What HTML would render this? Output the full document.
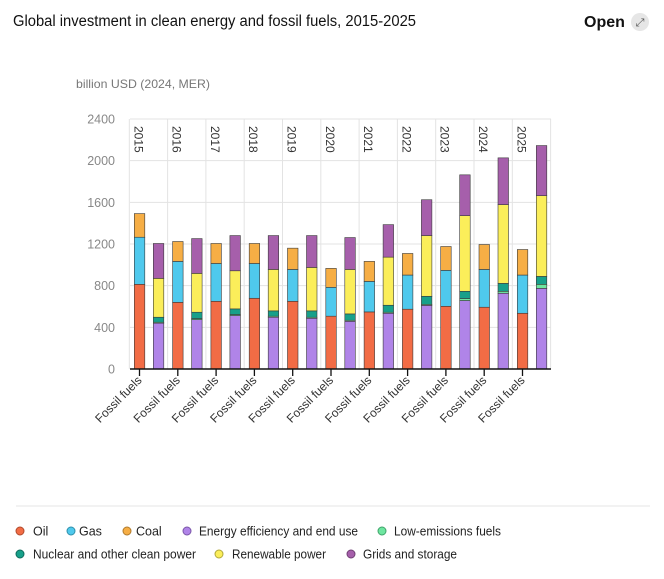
<!DOCTYPE html>
<html><head><meta charset="utf-8"><style>
body{margin:0;background:#fff;font-family:"Liberation Sans",sans-serif;}
</style></head><body>
<svg id="s" width="664" height="574" xmlns="http://www.w3.org/2000/svg" font-family="Liberation Sans, sans-serif">
<text x="13" y="26" font-size="15.5" fill="#111" textLength="403" lengthAdjust="spacingAndGlyphs">Global investment in clean energy and fossil fuels, 2015-2025</text>
<text x="584" y="27" font-size="16" font-weight="bold" fill="#111">Open</text>
<circle cx="640" cy="22" r="9" fill="#e6e6e6"/>
<text x="640" y="26" font-size="11" fill="#555" text-anchor="middle">⤢</text>
<text x="76" y="88" font-size="12" fill="#777" textLength="134" lengthAdjust="spacingAndGlyphs">billion USD (2024, MER)</text>
<line x1="16" y1="506" x2="650" y2="506" stroke="#e4e4e4"/>
<g id="g"></g>
<g font-size="12.5" fill="#222">
<circle cx="20" cy="531" r="4" fill="#f26c45" stroke="#b04a2c"/><text x="33" y="535.5">Oil</text>
<circle cx="71" cy="531" r="4" fill="#4fc9ed" stroke="#2f8faa"/><text x="79" y="535.5">Gas</text>
<circle cx="127" cy="531" r="4" fill="#f6ae45" stroke="#b07a2c"/><text x="136" y="535.5">Coal</text>
<circle cx="187" cy="531" r="4" fill="#b084e8" stroke="#7a56a8"/><text x="199" y="535.5" textLength="159" lengthAdjust="spacingAndGlyphs">Energy efficiency and end use</text>
<circle cx="382" cy="531" r="4" fill="#6ee6a0" stroke="#3fa36a"/><text x="394" y="535.5" textLength="107" lengthAdjust="spacingAndGlyphs">Low-emissions fuels</text>
<circle cx="20" cy="554" r="4" fill="#17a08a" stroke="#0d6b5c"/><text x="33" y="558.5" textLength="163" lengthAdjust="spacingAndGlyphs">Nuclear and other clean power</text>
<circle cx="219" cy="554" r="4" fill="#fbee5a" stroke="#b0a73a"/><text x="232" y="558.5" textLength="94" lengthAdjust="spacingAndGlyphs">Renewable power</text>
<circle cx="351" cy="554" r="4" fill="#a65fab" stroke="#703f74"/><text x="363" y="558.5" textLength="94" lengthAdjust="spacingAndGlyphs">Grids and storage</text>
</g>
</svg>
<script>
var g=document.getElementById('g'),h='';
function Y(v){return 369-v*250/2400;}
for(var v=0;v<=2400;v+=400){var y=Y(v);
 h+='<line x1="130" x2="551" y1="'+y+'" y2="'+y+'" stroke="#e3e3e3"/>';
 h+='<text x="115" y="'+(y+4.5)+'" font-size="12.5" fill="#888" text-anchor="end">'+v+'</text>';}
var years=[2015,2016,2017,2018,2019,2020,2021,2022,2023,2024,2025];
for(var i=0;i<12;i++){var x=129.3+38.3*i;
 h+='<line x1="'+x+'" x2="'+x+'" y1="119" y2="369" stroke="#e3e3e3"/>';}
var F=[[813,1265,1492],[640,1033,1224],[650,1013,1205],[679,1013,1205],[650,956,1160],[507,784,966],[548,841,1033],[574,902,1109],[602,947,1176],[593,956,1195],[535,902,1147]];
var C=[[440,449,497,870,1205],[474,484,545,918,1252],[513,523,577,943,1281],[497,507,558,956,1281],[487,497,558,975,1281],[458,468,529,956,1262],[535,545,612,1074,1386],[611,621,698,1281,1625],[657,676,746,1472,1864],[727,746,822,1578,2027],[774,813,889,1664,2145]];
var fc=['#f26c45','#4fc9ed','#f6ae45'],cc=['#b084e8','#6ee6a0','#17a08a','#fbee5a','#a65fab'];
function r(x,a,b,c){h+='<rect x="'+x+'" y="'+Y(b)+'" width="10.5" height="'+(Y(a)-Y(b))+'" fill="'+c+'" stroke="#3a3a3a" stroke-width="0.6"/>';}
for(var i=0;i<11;i++){var x0=129.3+38.3*i;var p=0;
 for(var k=0;k<3;k++){r(x0+5,p,F[i][k],fc[k]);p=F[i][k];}
 p=0;for(var k=0;k<5;k++){r(x0+24,p,C[i][k],cc[k]);p=C[i][k];}
 var tx=x0+10.2;
 h+='<line x1="'+tx+'" x2="'+tx+'" y1="369" y2="376" stroke="#111" stroke-width="1.3"/>';
 h+='<text transform="translate('+(tx+3)+',381) rotate(-45)" font-size="12" fill="#333" text-anchor="end">Fossil fuels</text>';
 h+='<text transform="translate('+(x0+5)+',126) rotate(90)" font-size="12" fill="#333">'+years[i]+'</text>';}
h+='<line x1="130" x2="551" y1="369" y2="369" stroke="#111" stroke-width="1.5"/>';
g.innerHTML=h;
</script>
</body></html>
